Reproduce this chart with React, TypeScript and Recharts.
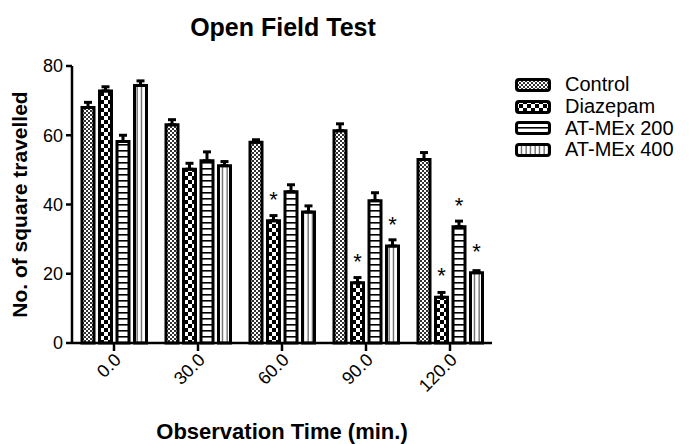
import React from 'react';
import { BarChart, Bar, XAxis, YAxis, ErrorBar, LabelList, Label, Legend } from 'recharts';

// observation times (min.)
const categories = ['0.0', '30.0', '60.0', '90.0', '120.0'];

const control = [68, 63, 58, 61.3, 53];
const controlErr = [1.5, 1.5, 0.7, 2, 2];
const diazepam = [72.8, 50.2, 35.3, 17.4, 13.2];
const diazepamErr = [1.2, 1.7, 1.5, 1.5, 1.4];
const atmex200 = [58.2, 52.6, 43.7, 41.1, 33.6];
const atmex200Err = [1.8, 2.6, 2, 2.3, 1.6];
const atmex400 = [74.4, 51.2, 37.8, 28, 20.3];
const atmex400Err = [1.3, 1.2, 1.8, 1.8, 0.6];

// significance marks (*)
const diazepamSig = ['', '', '*', '*', '*'];
const atmex200Sig = ['', '', '', '', '*'];
const atmex400Sig = ['', '', '', '*', '*'];

const yTicks = [0, 20, 40, 60, 80];

const data = categories.map((time, i) => ({
    time,
    control: control[i],
    controlErr: [0, controlErr[i]],
    diazepam: diazepam[i],
    diazepamErr: [0, diazepamErr[i]],
    diazepamSig: diazepamSig[i],
    atmex200: atmex200[i],
    atmex200Err: [0, atmex200Err[i]],
    atmex200Sig: atmex200Sig[i],
    atmex400: atmex400[i],
    atmex400Err: [0, atmex400Err[i]],
    atmex400Sig: atmex400Sig[i],
}));

const FONT = '"Liberation Sans", Arial, sans-serif';

const Patterns = ({ prefix }: { prefix: string }) => (
    <defs>
        <pattern id={`${prefix}-control`} patternUnits="userSpaceOnUse" width={4} height={4}>
            <rect width={4} height={4} fill="#fff" />
            <rect x={0} y={0} width={2} height={2} fill="#333" />
            <rect x={2} y={2} width={2} height={2} fill="#333" />
        </pattern>
        <pattern id={`${prefix}-diazepam`} patternUnits="userSpaceOnUse" width={8} height={8}>
            <rect width={8} height={8} fill="#fff" />
            <rect x={0} y={0} width={4} height={4} fill="#000" />
            <rect x={4} y={4} width={4} height={4} fill="#000" />
        </pattern>
        <pattern id={`${prefix}-h`} patternUnits="userSpaceOnUse" width={6} height={6}>
            <rect width={6} height={6} fill="#fff" />
            <rect x={0} y={0} width={6} height={1.6} fill="#000" />
        </pattern>
        <pattern id={`${prefix}-v`} patternUnits="userSpaceOnUse" width={4.5} height={6}>
            <rect width={4.5} height={6} fill="#fff" />
            <rect x={1.5} y={0} width={1.2} height={6} fill="#555" />
        </pattern>
    </defs>
);

const series = [
    { key: 'control', name: 'Control', pat: 'control' },
    { key: 'diazepam', name: 'Diazepam', pat: 'diazepam' },
    { key: 'atmex200', name: 'AT-MEx 200', pat: 'h' },
    { key: 'atmex400', name: 'AT-MEx 400', pat: 'v' },
];

const renderStar = (props: any) => {
    const vb = props.viewBox || props;
    if (!props.value) return null;
    return (
        <text x={vb.x + vb.width / 2} y={vb.y - 14} textAnchor="middle" fontSize={22} fontFamily={FONT} fill="#000">
            {props.value}
        </text>
    );
};

const XTick = (props: any) => {
    const { x, y, payload } = props;
    const ax = x - 1;
    const ay = y - 1;
    return (
        <text x={ax} y={ay} transform={`rotate(-45, ${ax}, ${ay})`} textAnchor="end" dy="0.71em"
              fontSize={18} fontFamily={FONT} fill="#000">
            {payload.value}
        </text>
    );
};

const LegendContent = () => (
    <div style={{ fontFamily: FONT, fontSize: 20, color: '#000' }}>
        {series.map(s => (
            <div key={s.key} style={{ display: 'flex', alignItems: 'center', height: 21.7 }}>
                <svg width={36} height={14} style={{ marginRight: 14 }}>
                    <Patterns prefix={`lg-${s.key}`} />
                    <rect x={1.5} y={1.5} width={33} height={11} rx={2.5} fill={`url(#lg-${s.key}-${s.pat})`}
                          stroke="#000" strokeWidth={3} />
                </svg>
                <span>{s.name}</span>
            </div>
        ))}
    </div>
);

const App: React.FC = () => {
    return (
        <div style={{ position: 'absolute', left: 0, top: 0, width: 691, height: 444, background: '#fff' }}>
            <div style={{
                position: 'absolute', left: 0, top: 15, width: 566, textAlign: 'center',
                fontFamily: FONT, fontWeight: 'bold', fontSize: 25, lineHeight: '25px',
            }}>
                Open Field Test
            </div>
            <BarChart
                width={691}
                height={444}
                data={data}
                margin={{ top: 66, right: 199, bottom: 5, left: 0 }}
                barSize={12}
                barGap={5.5}
            >
                <Patterns prefix="bar" />
                <XAxis
                    dataKey="time"
                    height={96}
                    axisLine={{ stroke: '#000', strokeWidth: 2.5 }}
                    tickLine={{ stroke: '#000', strokeWidth: 2.5 }}
                    tickSize={8}
                    tick={<XTick />}
                    interval={0}
                >
                    <Label value="Observation Time (min.)" position="insideBottom" offset={0}
                           style={{ fontFamily: FONT, fontWeight: 'bold', fontSize: 22, fill: '#000' }} />
                </XAxis>
                <YAxis
                    width={72}
                    domain={[0, 80]}
                    ticks={yTicks}
                    interval={0}
                    axisLine={{ stroke: '#000', strokeWidth: 2.5 }}
                    tickLine={{ stroke: '#000', strokeWidth: 2.5 }}
                    tickSize={6}
                    tickMargin={3}
                    tick={{ fill: '#000', fontSize: 18, fontFamily: FONT }}
                >
                    <Label value="No. of square travelled" angle={-90} position="insideLeft" offset={20}
                           style={{ textAnchor: 'middle', fontFamily: FONT, fontWeight: 'bold', fontSize: 21, fill: '#000' }} />
                </YAxis>
                <Legend
                    layout="vertical"
                    align="center"
                    verticalAlign="middle"
                    wrapperStyle={{ left: 515, top: 74, width: 176 }}
                    content={<LegendContent />}
                />
                {series.map(s => (
                    <Bar
                        key={s.key}
                        dataKey={s.key}
                        name={s.name}
                        fill={`url(#bar-${s.pat})`}
                        stroke="#000"
                        strokeWidth={3}
                        isAnimationActive={false}
                    >
                        <ErrorBar dataKey={`${s.key}Err`} width={4} stroke="#000" strokeWidth={3} direction="y" />
                        {s.key !== 'control' && <LabelList dataKey={`${s.key}Sig`} content={renderStar} />}
                    </Bar>
                ))}
            </BarChart>
        </div>
    );
};

export default App;
